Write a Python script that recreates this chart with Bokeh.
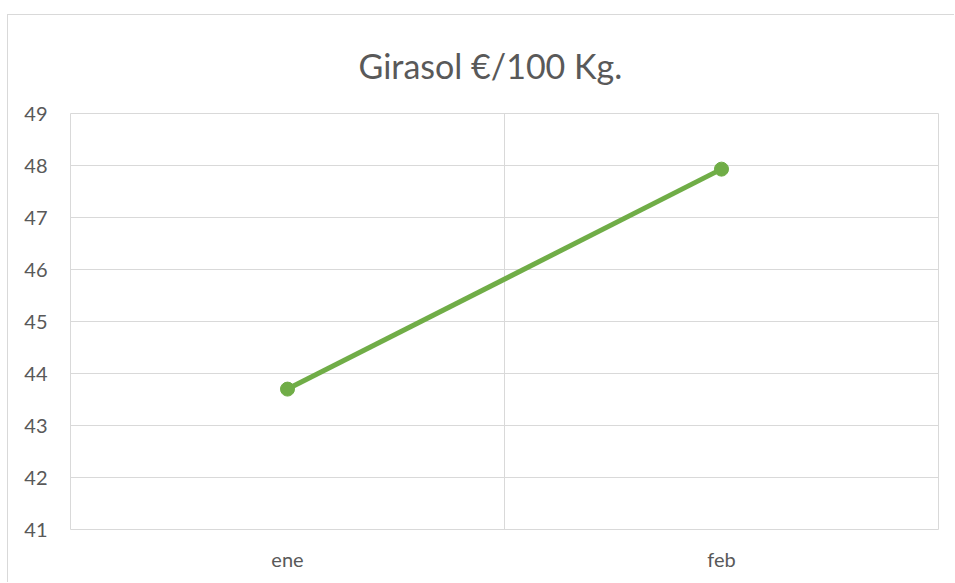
from bokeh.plotting import figure
from bokeh.models import FixedTicker, Range1d, Title
from bokeh.embed import file_html
from bokeh.resources import INLINE

categories = ["ene", "feb"]
values = [43.7, 47.93]
y_ticks = [41, 42, 43, 44, 45, 46, 47, 48, 49]
title_text = "Girasol €/100 Kg."

xs = [i + 0.5 for i in range(len(categories))]
boundaries = list(range(len(categories) + 1))

p = figure(width=947, height=568, output_backend="svg", toolbar_location=None,
           x_range=Range1d(0, len(categories)), y_range=Range1d(y_ticks[0], y_ticks[-1]),
           min_border_left=62, min_border_right=17, min_border_top=98, min_border_bottom=54)
p.styles = {"border-left": "1px solid #d9d9d9", "border-top": "1px solid #d9d9d9",
            "margin-top": "14px", "margin-left": "7px"}
p.outline_line_color = "#d9d9d9"
p.background_fill_color = "white"
p.border_fill_color = "white"

t = Title(text=title_text, align="left", offset=288, text_font="Lato", text_font_size="34px",
          text_font_style="normal", text_color="#595959", standoff=55)
p.add_layout(t, "above")

# Axes
p.xaxis.ticker = FixedTicker(ticks=xs)
p.xaxis.major_label_overrides = {x: c for x, c in zip(xs, categories)}
p.yaxis.ticker = FixedTicker(ticks=y_ticks)
for ax in (p.xaxis[0], p.yaxis[0]):
    ax.axis_line_color = None
    ax.major_tick_line_color = None
    ax.minor_tick_line_color = None
    ax.major_label_text_font = "Lato"
    ax.major_label_text_font_size = "20px"
    ax.major_label_text_color = "#595959"
p.yaxis.major_label_standoff = 17
p.xaxis.major_label_standoff = 11

p.xgrid.ticker = FixedTicker(ticks=boundaries)
p.xgrid.grid_line_color = "#d9d9d9"
p.ygrid.ticker = FixedTicker(ticks=y_ticks)
p.ygrid.grid_line_color = "#d9d9d9"

p.line(xs, values, line_color="#70AD47", line_width=5)
p.scatter(xs, values, marker="circle", size=14, fill_color="#70AD47", line_color="#70AD47")

open("out.html", "w").write(file_html(p, INLINE))
